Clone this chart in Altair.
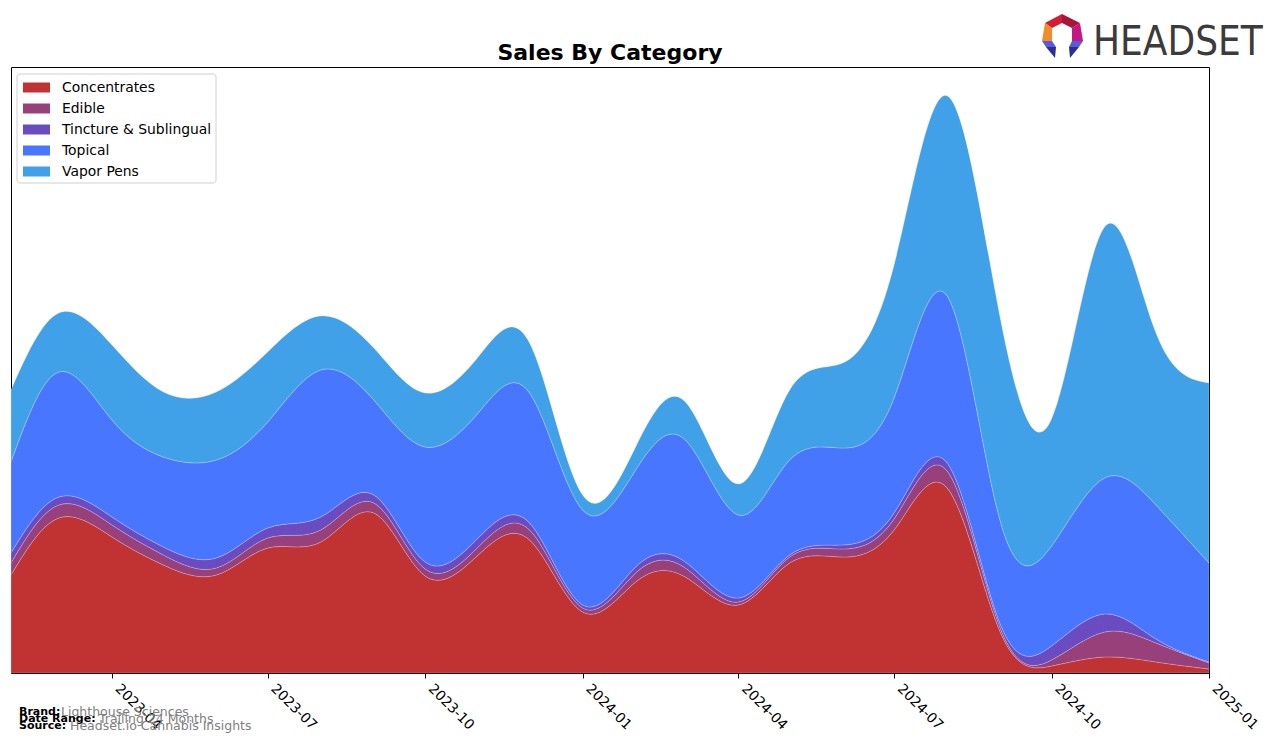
import altair as alt
import pandas as pd

months = ["2023-02-01", "2023-03-01", "2023-04-01", "2023-05-01", "2023-06-01", "2023-07-01",
          "2023-08-01", "2023-09-01", "2023-10-01", "2023-11-01", "2023-12-01", "2024-01-01",
          "2024-02-01", "2024-03-01", "2024-04-01", "2024-05-01", "2024-06-01", "2024-07-01",
          "2024-08-01", "2024-09-01", "2024-10-01", "2024-11-01", "2024-12-01", "2025-01-01"]

categories = ["Concentrates", "Edible", "Tincture & Sublingual", "Topical", "Vapor Pens"]
colors = ["#C13333", "#98407A", "#6A4CC0", "#4876FF", "#40A0E8"]

concentrates = [98, 155, 136, 108, 98, 125, 131, 160, 97, 118, 133, 61,
                91, 96, 68, 110, 116, 143, 185, 41, 7, 16, 11, 4]
edible = [12, 13, 12, 10, 7, 10, 12, 10, 7, 8, 10, 4,
          9, 9, 3, 6, 8, 11, 17, 4, 6, 25, 19, 6]
tincture = [10, 8, 8, 8, 10, 10, 13, 8, 7, 9, 7, 3,
            6, 6, 4, 2, 4, 6, 8, 4, 14, 18, 4, 1]
topical = [91, 125, 97, 90, 98, 106, 147, 95, 115, 125, 130, 95,
           97, 122, 83, 95, 97, 115, 167, 103, 100, 136, 134, 99]
vapor = [72, 59, 75, 65, 68, 70, 54, 52, 54, 56, 50, 15,
         23, 38, 31, 70, 85, 133, 200, 203, 127, 251, 172, 180]

tick_months = [(2023, 4), (2023, 7), (2023, 10), (2024, 1), (2024, 4), (2024, 7), (2024, 10), (2025, 1)]

series = [concentrates, edible, tincture, topical, vapor]
rows = []
for ci, (cat, vals) in enumerate(zip(categories, series)):
    for m, v in zip(months, vals):
        rows.append({"month": m, "category": cat, "value": v, "order": ci})
df = pd.DataFrame(rows)

FONT = "DejaVu Sans"
legend_shape = "M-1,-0.37L1,-0.37L1,0.37L-1,0.37Z"

area = alt.Chart(df).mark_area(interpolate="natural", stroke="white", strokeWidth=0.6,
                               strokeOpacity=0.35).encode(
    x=alt.X("month:T",
            scale=alt.Scale(type="utc",
                            domain=[alt.DateTime(year=2023, month=2, date=1, utc=True),
                                    alt.DateTime(year=2025, month=1, date=1, utc=True)],
                            nice=False),
            axis=alt.Axis(values=[alt.DateTime(year=y, month=m, date=1, utc=True) for y, m in tick_months],
                          format="%Y-%m", labelAngle=45, labelAlign="left", labelBaseline="bottom",
                          labelFontSize=13.9, labelFont=FONT, labelColor="black", labelPadding=13,
                          tickSize=5, tickColor="black", domainColor="black", grid=False, title=None,
                          labelOverlap=False, labelFlush=False)),
    y=alt.Y("value:Q", stack="zero", scale=alt.Scale(domain=[0, 606], nice=False), axis=None),
    color=alt.Color("category:N",
                    scale=alt.Scale(domain=categories, range=colors),
                    legend=alt.Legend(orient="none", legendX=12, legendY=7, title=None,
                                      symbolType=legend_shape, symbolSize=729,
                                      symbolStrokeWidth=0, symbolOpacity=1,
                                      labelFontSize=13.9, labelFont=FONT, labelColor="black",
                                      labelOffset=12, padding=0, rowPadding=0)),
    order=alt.Order("order:Q", sort="ascending"),
)

legend_frame = alt.Chart(pd.DataFrame({"k": [0]})).mark_rect(
    fill="white", stroke="#cccccc", strokeWidth=1, cornerRadius=3, opacity=0.9
).encode(x=alt.value(6), x2=alt.value(205), y=alt.value(7), y2=alt.value(116))

def txt(s, x, y, size, weight="normal", color="black", font=FONT, align="left", baseline="middle"):
    return alt.Chart(pd.DataFrame({"t": [s]})).mark_text(
        fontSize=size, fontWeight=weight, color=color, font=font, align=align, baseline=baseline
    ).encode(x=alt.value(x), y=alt.value(y), text="t:N")

title = txt("Sales By Category", 599, -14, 22, "bold", align="center")

footer = [
    txt("Brand:", 8, 645, 11, "bold"),
    txt("Lighthouse Sciences", 50, 645, 12.5, color="#808080"),
    txt("Date Range:", 8, 652, 11, "bold"),
    txt("Trailing 24 Months", 88, 652, 12.5, color="#808080"),
    txt("Source:", 8, 659, 11, "bold"),
    txt("Headset.io Cannabis Insights", 59, 659, 12.5, color="#808080"),
]

logo_text = txt("HEADSET", 1082, -12, 40, color="#3b3b3b",
                font="DejaVu Sans Condensed, Liberation Sans", baseline="alphabetic")

logo_parts = [
    ("M-17,-13L0,-22L0,-13L-10,-8Z", "#D21E32"),
    ("M0,-22L18,-13L10,-8L0,-13Z", "#A8143C"),
    ("M-17,-13L-10,-8L-10,5L-20,5Z", "#F28C28"),
    ("M18,-13L21,5L10,5L10,-8Z", "#C2187F"),
    ("M-20,5L-10,5L-6,11L-16,11Z", "#5A5ADC"),
    ("M-16,11L-6,11L-7,22Z", "#2D2E91"),
    ("M21,5L10,5L7,11L17,11Z", "#5A5ADC"),
    ("M17,11L7,11L8,22Z", "#2D2E91"),
]
logo = [
    alt.Chart(pd.DataFrame({"k": [0]})).mark_point(shape=p, size=4, filled=True, color=c,
                                                     opacity=1, strokeWidth=0).encode(
        x=alt.value(1051), y=alt.value(-31))
    for p, c in logo_parts
]

chart = alt.layer(area, legend_frame, title, *footer, logo_text, *logo).properties(
    width=1198, height=606,
    padding={"left": 11, "top": 67, "right": 67, "bottom": 70},
    autosize=alt.AutoSizeParams(type="none"),
    background="white",
).configure_view(stroke="black", strokeWidth=1)

chart.save("out.html", embed_options={"renderer": "svg", "actions": False})
